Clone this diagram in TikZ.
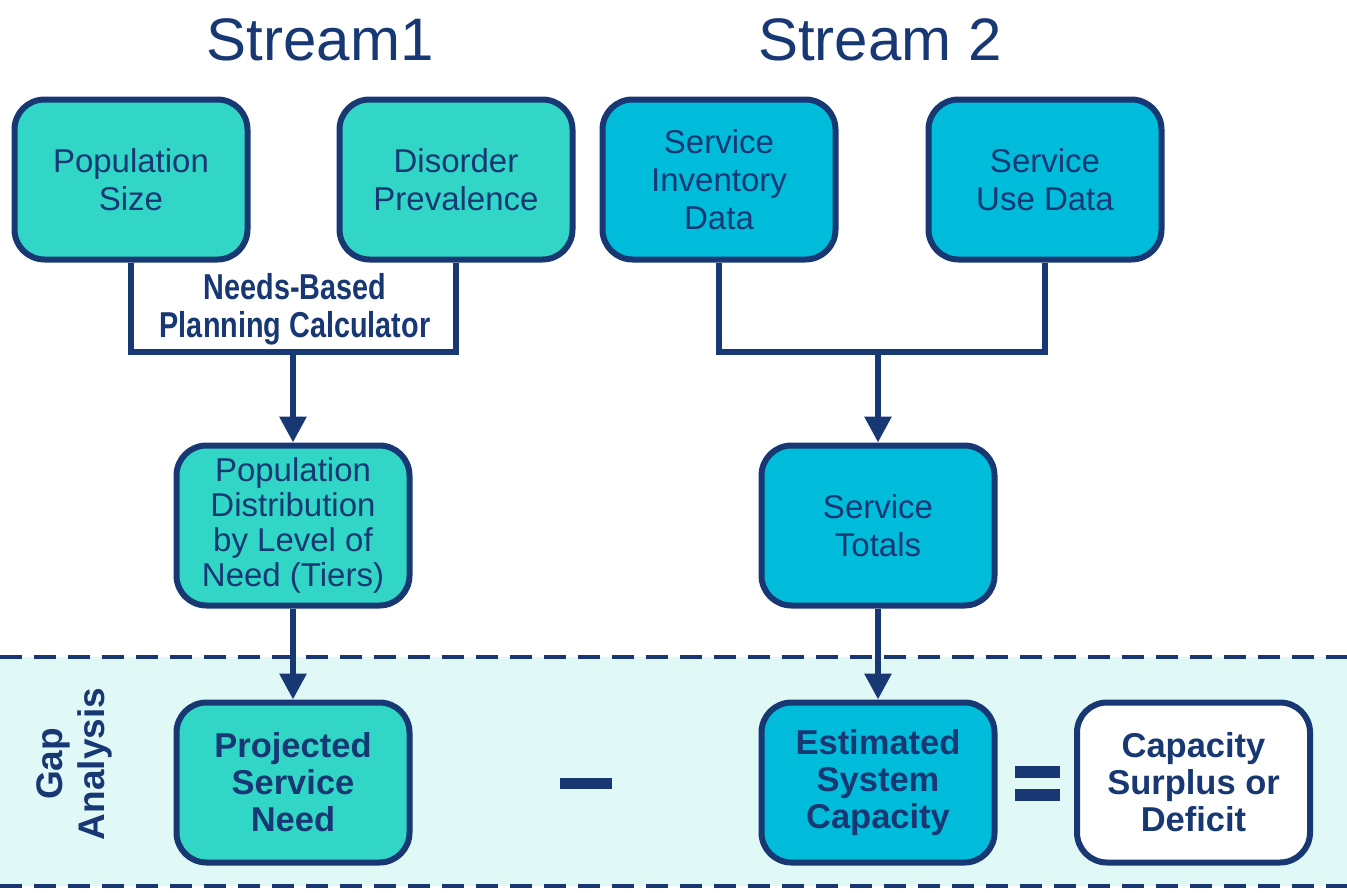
\documentclass[tikz,border=0pt]{standalone}
\usepackage{fontspec}
\setmainfont{Liberation Sans}
\newfontfamily\narrowbold[FakeStretch=0.8]{Liberation Sans Bold}
\usetikzlibrary{arrows.meta}
\definecolor{navy}{RGB}{24,56,116}
\definecolor{tealfill}{RGB}{50,214,198}
\definecolor{bluefill}{RGB}{0,188,219}
\definecolor{bandfill}{RGB}{224,248,246}
\begin{document}
\begin{tikzpicture}[x=1pt,y=-1pt,
  box/.style={draw=navy,line width=6pt,rounded corners=30pt,minimum width=233pt,minimum height=160pt,
    text=navy,align=center,inner sep=0pt,font=\fontsize{33}{38}\selectfont},
  tealbox/.style={box,fill=tealfill},
  bluebox/.style={box,fill=bluefill},
  whitebox/.style={box,fill=white},
  boldtxt/.style={font=\fontsize{34.5}{37}\selectfont\bfseries},
  conn/.style={draw=navy,line width=6pt},
  arr/.style={conn,-{Triangle[width=26pt,length=26pt]}},
  dashline/.style={draw=navy,line width=4pt,dash pattern=on 22pt off 12pt},
  title/.style={text=navy,font=\fontsize{60}{60}\selectfont,inner sep=0pt}]
\useasboundingbox (0,0) rectangle (1347,892);
\fill[bandfill] (0,657) rectangle (1347,886);
\draw[dashline] (0,657) -- (1347,657);
\draw[dashline] (0,886) -- (1347,886);

\node[title] (t1) at (320,40) {Stream1};
\node[title] (t2) at (880,40) {Stream 2};

\node[tealbox] (pop) at (131,179.5) {Population\\Size};
\node[tealbox] (dis) at (456,179.5) {Disorder\\Prevalence};
\node[bluebox] (inv) at (719,179.5) {Service\\Inventory\\Data};
\node[bluebox] (use) at (1045,179.5) {Service\\Use Data};

\node[tealbox,font=\fontsize{33}{35}\selectfont] (pd) at (293,525.5) {Population\\Distribution\\by Level of\\Need (Tiers)};
\node[bluebox] (st) at (878,525.5) {Service\\Totals};

\node[tealbox,boldtxt] (psn) at (293,782.5) {Projected\\Service\\Need};
\node[bluebox,boldtxt] (esc) at (878,782.5) {Estimated\\System\\Capacity};
\node[whitebox,boldtxt] (csd) at (1193.5,782.5) {Capacity\\Surplus or\\Deficit};

\node[text=navy,align=center,inner sep=0pt,font=\fontsize{36}{38}\narrowbold] (nbp) at (295,309) {Needs-Based\\Planning Calculator};

\node[text=navy,align=center,inner sep=0pt,rotate=90,font=\fontsize{37}{42}\selectfont\bfseries] (gap) at (74,764) {Gap\\Analysis};

\coordinate (j1) at (293,352);
\coordinate (j2) at (878,352);
\draw[conn] (pop.south) |- (j1) -| (dis.south);
\draw[arr] (j1) -- (pd.north);
\draw[conn] (inv.south) |- (j2) -| (use.south);
\draw[arr] (j2) -- (st.north);
\draw[arr] (pd.south) -- (psn.north);
\draw[arr] (st.south) -- (esc.north);

\node[fill=navy,minimum width=52pt,minimum height=11pt,inner sep=0pt] (minus) at (586,783) {};
\node[fill=navy,minimum width=45pt,minimum height=12pt,inner sep=0pt] (eq1) at (1037,772) {};
\node[fill=navy,minimum width=45pt,minimum height=12pt,inner sep=0pt] (eq2) at (1037,795) {};
\end{tikzpicture}
\end{document}
